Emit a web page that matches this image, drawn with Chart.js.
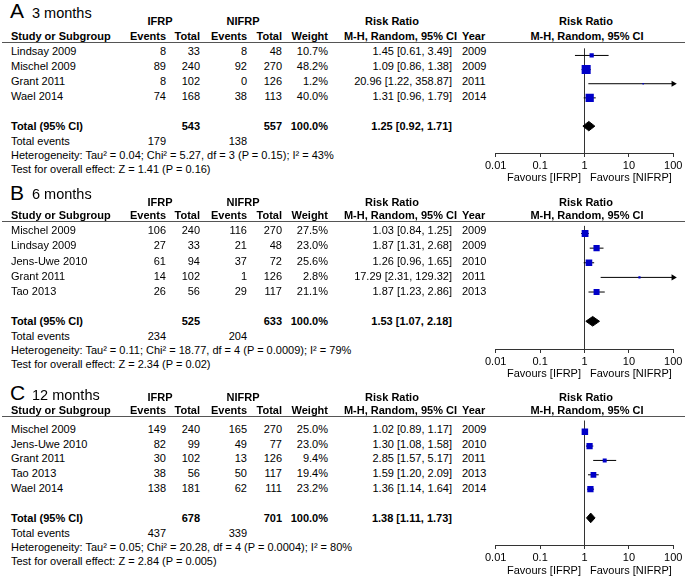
<!DOCTYPE html>
<html>
<head>
<meta charset="utf-8">
<script src="https://cdn.jsdelivr.net/npm/chart.js"></script>
<style>
body { margin: 0; background: #fff; }
#page { position: relative; width: 685px; height: 577px; overflow: hidden; background: #fff;
        font-family: "Liberation Sans", Arial, sans-serif; color: #000; }
.txt { position: absolute; white-space: nowrap; }
.hline { position: absolute; height: 1px; background: #555; }
canvas { position: absolute; }
</style>
</head>
<body>
<div id="page"></div>
<script>
// ---- data ----
const panel_letters = ['A', 'B', 'C'];
const panel_titles = ['3 months', '6 months', '12 months'];

const studies_3m = ['Lindsay 2009', 'Mischel 2009', 'Grant 2011', 'Wael 2014'];
const ifrp_events_3m = [8, 89, 8, 74];
const ifrp_total_3m = [33, 240, 102, 168];
const nifrp_events_3m = [8, 92, 0, 38];
const nifrp_total_3m = [48, 270, 126, 113];
const weight_3m = [10.7, 48.2, 1.2, 40.0];
const rr_3m = [1.45, 1.09, 20.96, 1.31];
const rr_low_3m = [0.61, 0.86, 1.22, 0.96];
const rr_high_3m = [3.49, 1.38, 358.87, 1.79];
const year_3m = [2009, 2009, 2011, 2014];

const studies_6m = ['Mischel 2009', 'Lindsay 2009', 'Jens-Uwe 2010', 'Grant 2011', 'Tao 2013'];
const ifrp_events_6m = [106, 27, 61, 14, 26];
const ifrp_total_6m = [240, 33, 94, 102, 56];
const nifrp_events_6m = [116, 21, 37, 1, 29];
const nifrp_total_6m = [270, 48, 72, 126, 117];
const weight_6m = [27.5, 23.0, 25.6, 2.8, 21.1];
const rr_6m = [1.03, 1.87, 1.26, 17.29, 1.87];
const rr_low_6m = [0.84, 1.31, 0.96, 2.31, 1.23];
const rr_high_6m = [1.25, 2.68, 1.65, 129.32, 2.86];
const year_6m = [2009, 2009, 2010, 2011, 2013];

const studies_12m = ['Mischel 2009', 'Jens-Uwe 2010', 'Grant 2011', 'Tao 2013', 'Wael 2014'];
const ifrp_events_12m = [149, 82, 30, 38, 138];
const ifrp_total_12m = [240, 99, 102, 56, 181];
const nifrp_events_12m = [165, 49, 13, 50, 62];
const nifrp_total_12m = [270, 77, 126, 117, 111];
const weight_12m = [25.0, 23.0, 9.4, 19.4, 23.2];
const rr_12m = [1.02, 1.30, 2.85, 1.59, 1.36];
const rr_low_12m = [0.89, 1.08, 1.57, 1.20, 1.14];
const rr_high_12m = [1.17, 1.58, 5.17, 2.09, 1.64];
const year_12m = [2009, 2010, 2011, 2013, 2014];

const pooled_ifrp_total = [543, 525, 678];
const pooled_nifrp_total = [557, 633, 701];
const pooled_ifrp_events = [179, 234, 437];
const pooled_nifrp_events = [138, 204, 339];
const pooled_rr = [1.25, 1.53, 1.38];
const pooled_low = [0.92, 1.07, 1.11];
const pooled_high = [1.71, 2.18, 1.73];
const heterogeneity = [
    'Heterogeneity: Tau\u00b2 = 0.04; Chi\u00b2 = 5.27, df = 3 (P = 0.15); I\u00b2 = 43%',
    'Heterogeneity: Tau\u00b2 = 0.11; Chi\u00b2 = 18.77, df = 4 (P = 0.0009); I\u00b2 = 79%',
    'Heterogeneity: Tau\u00b2 = 0.05; Chi\u00b2 = 20.28, df = 4 (P = 0.0004); I\u00b2 = 80%'
];
const overall_effect = [
    'Test for overall effect: Z = 1.41 (P = 0.16)',
    'Test for overall effect: Z = 2.34 (P = 0.02)',
    'Test for overall effect: Z = 2.84 (P = 0.005)'
];

const tick_values = [0.01, 0.1, 1, 10, 100];
const tick_labels = ['0.01', '0.1', '1', '10', '100'];
const null_effect = 1;

// ---- layout (pixels) ----
const panel_title_base = [18, 199.5, 400];
const panel_group_base = [25, 206, 401.5];
const panel_line = [42, 221, 416];
const panel_row0 = [55, 234.5, 433];
const panel_step = [15, 15.2, 14.9];

var panels = [
    { studies: studies_3m, ifrp_events: ifrp_events_3m, ifrp_total: ifrp_total_3m,
      nifrp_events: nifrp_events_3m, nifrp_total: nifrp_total_3m, weight: weight_3m,
      rr: rr_3m, low: rr_low_3m, high: rr_high_3m, year: year_3m },
    { studies: studies_6m, ifrp_events: ifrp_events_6m, ifrp_total: ifrp_total_6m,
      nifrp_events: nifrp_events_6m, nifrp_total: nifrp_total_6m, weight: weight_6m,
      rr: rr_6m, low: rr_low_6m, high: rr_high_6m, year: year_6m },
    { studies: studies_12m, ifrp_events: ifrp_events_12m, ifrp_total: ifrp_total_12m,
      nifrp_events: nifrp_events_12m, nifrp_total: nifrp_total_12m, weight: weight_12m,
      rr: rr_12m, low: rr_low_12m, high: rr_high_12m, year: year_12m }
];

var page = document.getElementById('page');

Chart.defaults.font.family = '"Liberation Sans", Arial, sans-serif';
Chart.defaults.font.size = 11;
Chart.defaults.color = '#000';

function Put_Text( text, x, base, align, size, bold ) {
    var div = document.createElement('div');
    div.setAttribute('class', 'txt');
    div.style.fontSize = size + 'px';
    div.style.lineHeight = size + 'px';
    div.style.top = (base - size * 0.8465) + 'px';
    if ( bold ) {
        div.style.fontWeight = 'bold';
    }
    if ( align == 'right' ) {
        div.style.left = (x - 300) + 'px';
        div.style.width = '300px';
        div.style.textAlign = 'right';
    } else if ( align == 'center' ) {
        div.style.left = (x - 150) + 'px';
        div.style.width = '300px';
        div.style.textAlign = 'center';
    } else {
        div.style.left = x + 'px';
    }
    div.appendChild(document.createTextNode(text));
    page.appendChild(div);
}

function Put_Line( x1, x2, y ) {
    var div = document.createElement('div');
    div.setAttribute('class', 'hline');
    div.style.left = x1 + 'px';
    div.style.width = (x2 - x1) + 'px';
    div.style.top = y + 'px';
    page.appendChild(div);
}

function Fmt_CI( rr, low, high ) {
    return rr.toFixed(2) + ' [' + low.toFixed(2) + ', ' + high.toFixed(2) + ']';
}

function Draw_Table( p, k ) {
    var line_y = panel_line[k];
    var row0 = panel_row0[k];
    var step = panel_step[k];
    var n = p.studies.length;

    Put_Text(panel_letters[k], 10, panel_title_base[k], 'left', 21, false);
    Put_Text(panel_titles[k], 32, panel_title_base[k], 'left', 14.5, false);

    var gb = panel_group_base[k];
    Put_Text('IFRP', 160, gb, 'center', 11, true);
    Put_Text('NIFRP', 243, gb, 'center', 11, true);
    Put_Text('Risk Ratio', 392, gb, 'center', 11, true);
    Put_Text('Risk Ratio', 586, gb, 'center', 11, true);

    var hb = line_y - 2;
    Put_Text('Study or Subgroup', 11, hb, 'left', 11, true);
    Put_Text('Events', 166, hb, 'right', 11, true);
    Put_Text('Total', 200, hb, 'right', 11, true);
    Put_Text('Events', 247, hb, 'right', 11, true);
    Put_Text('Total', 282, hb, 'right', 11, true);
    Put_Text('Weight', 328, hb, 'right', 11, true);
    Put_Text('M-H, Random, 95% CI', 457, hb, 'right', 11, true);
    Put_Text('Year', 462, hb, 'left', 11, true);
    Put_Text('M-H, Random, 95% CI', 587, hb, 'center', 11, true);
    Put_Line(2, 685, line_y);

    for ( var i=0; i<n; i++ ) {
        var base = row0 + step * i;
        Put_Text(p.studies[i], 11, base, 'left', 11, false);
        Put_Text(String(p.ifrp_events[i]), 166, base, 'right', 11, false);
        Put_Text(String(p.ifrp_total[i]), 200, base, 'right', 11, false);
        Put_Text(String(p.nifrp_events[i]), 247, base, 'right', 11, false);
        Put_Text(String(p.nifrp_total[i]), 282, base, 'right', 11, false);
        Put_Text(p.weight[i].toFixed(1) + '%', 328, base, 'right', 11, false);
        Put_Text(Fmt_CI(p.rr[i], p.low[i], p.high[i]), 452, base, 'right', 11, false);
        Put_Text(String(p.year[i]), 462, base, 'left', 11, false);
    }

    var tb = row0 + step * (n + 1);
    Put_Text('Total (95% CI)', 11, tb, 'left', 11, true);
    Put_Text(String(pooled_ifrp_total[k]), 200, tb, 'right', 11, true);
    Put_Text(String(pooled_nifrp_total[k]), 282, tb, 'right', 11, true);
    Put_Text('100.0%', 328, tb, 'right', 11, true);
    Put_Text(Fmt_CI(pooled_rr[k], pooled_low[k], pooled_high[k]), 452, tb, 'right', 11, true);

    Put_Text('Total events', 11, tb + 15, 'left', 11, false);
    Put_Text(String(pooled_ifrp_events[k]), 166, tb + 15, 'right', 11, false);
    Put_Text(String(pooled_nifrp_events[k]), 247, tb + 15, 'right', 11, false);
    Put_Text(heterogeneity[k], 11, tb + 29, 'left', 11, false);
    Put_Text(overall_effect[k], 11, tb + 43, 'left', 11, false);
}

function Draw_Plot( p, k ) {
    var line_y = panel_line[k];
    var row0 = panel_row0[k];
    var step = panel_step[k];
    var n = p.studies.length;

    var axis_y = row0 + step * (n + 1) + 23;
    var area_h = Math.round(axis_y - line_y);
    var y_min = -(row0 - 5.5 - line_y) / step;
    var y_max = y_min + area_h / step;
    var x_max = tick_values[tick_values.length - 1];

    var canvas = document.createElement('canvas');
    canvas.width = 215;
    canvas.height = area_h + 30;
    canvas.style.left = '470px';
    canvas.style.top = line_y + 'px';
    page.appendChild(canvas);

    var datasets = [];

    // study squares, area follows the weight
    datasets.push({
        data: p.rr.map(function(v, i) { return { x: v, y: i }; }),
        pointStyle: 'rect',
        pointRadius: function(ctx) { return 1.3 * Math.sqrt(p.weight[ctx.dataIndex]) / Math.SQRT2; },
        pointBackgroundColor: '#0000c8',
        pointBorderWidth: 0,
        order: 0
    });

    for ( var i=0; i<n; i++ ) {
        datasets.push({
            data: [ { x: p.low[i], y: i }, { x: p.high[i], y: i } ],
            showLine: true,
            fill: false,
            borderColor: '#000',
            borderWidth: 1,
            pointRadius: 0,
            order: 1
        });
        if ( p.high[i] > x_max ) {
            datasets.push({
                data: [ { x: x_max, y: i } ],
                pointStyle: 'triangle',
                pointRotation: 90,
                pointRadius: 3.5,
                pointBackgroundColor: '#000',
                pointBorderWidth: 0,
                clip: false,
                order: 1
            });
        }
    }

    // pooled diamond
    var t = n + 1;
    var h = 5 / step;
    datasets.push({
        data: [
            { x: pooled_low[k], y: t },
            { x: pooled_rr[k], y: t - h },
            { x: pooled_high[k], y: t },
            { x: pooled_rr[k], y: t + h },
            { x: pooled_low[k], y: t }
        ],
        showLine: true,
        fill: 'shape',
        backgroundColor: '#000',
        borderColor: '#000',
        borderWidth: 1,
        pointRadius: 0,
        order: 0
    });

    // line of no effect
    datasets.push({
        data: [ { x: null_effect, y: y_min }, { x: null_effect, y: y_max } ],
        showLine: true,
        fill: false,
        borderColor: '#333',
        borderWidth: 1,
        pointRadius: 0,
        order: 3
    });

    new Chart(canvas.getContext('2d'), {
        type: 'scatter',
        data: { datasets: datasets },
        options: {
            responsive: false,
            animation: false,
            devicePixelRatio: 1,
            events: [],
            layout: { padding: { left: 25.7, right: 11.7, top: 0, bottom: 0 } },
            plugins: { legend: { display: false }, tooltip: { enabled: false } },
            scales: {
                x: {
                    type: 'logarithmic',
                    position: 'bottom',
                    min: tick_values[0],
                    max: x_max,
                    afterBuildTicks: function(scale) {
                        scale.ticks = tick_values.map(function(v) { return { value: v }; });
                    },
                    afterFit: function(scale) { scale.height = 30; },
                    ticks: {
                        autoSkip: false,
                        maxRotation: 0,
                        padding: 2,
                        color: '#000',
                        font: { size: 11 },
                        callback: function(value, index) { return tick_labels[index]; }
                    },
                    grid: { drawOnChartArea: false, drawTicks: true, tickLength: 4, color: '#333' },
                    border: { display: true, color: '#333', width: 1 }
                },
                y: {
                    type: 'linear',
                    reverse: true,
                    min: y_min,
                    max: y_max,
                    display: false
                }
            }
        }
    });

    Put_Text('Favours [IFRP]', 581, axis_y + 28.5, 'right', 11, false);
    Put_Text('Favours [NIFRP]', 590, axis_y + 28.5, 'left', 11, false);
}

var panel_count = panels.length;
for ( var k=0; k<panel_count; k++ ) {
    Draw_Table(panels[k], k);
    Draw_Plot(panels[k], k);
}
</script>
</body>
</html>
